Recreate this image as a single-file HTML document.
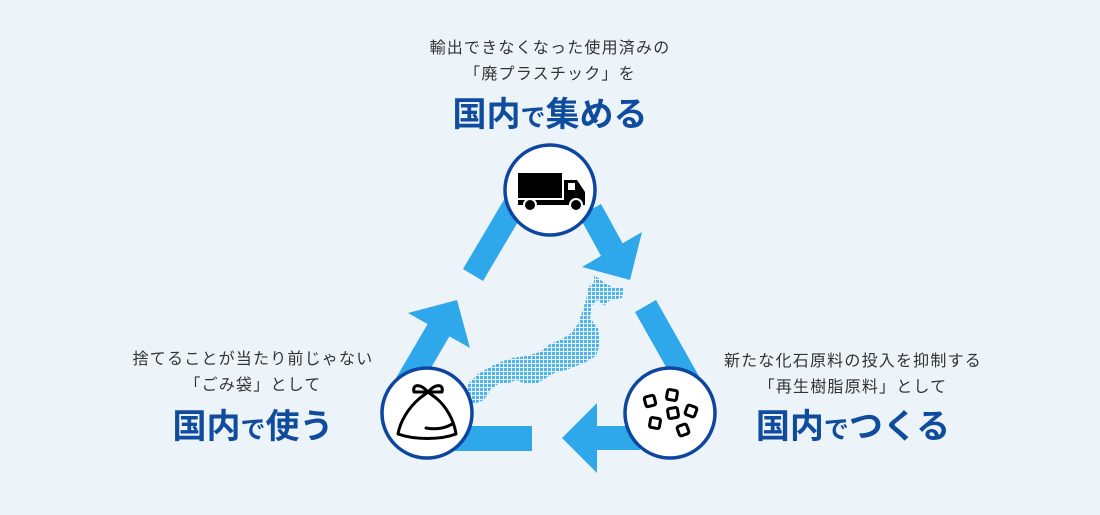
<!DOCTYPE html>
<html><head><meta charset="utf-8"><style>
html,body{margin:0;padding:0;background:#edf4f9;}
svg{display:block}
.s{font-family:"Liberation Sans","Noto Sans CJK JP",sans-serif;font-size:16px;fill:#333;letter-spacing:1.2px}
.b{font-family:"Liberation Sans","Noto Sans CJK JP",sans-serif;font-weight:bold;fill:#0f4c9e}
</style></head><body>
<svg width="1100" height="515" viewBox="0 0 1100 515" xmlns="http://www.w3.org/2000/svg">
<defs>
<pattern id="dots" width="4" height="4" patternUnits="userSpaceOnUse">
<rect width="3" height="3" fill="#4fb3ee"/>
</pattern>
</defs>
<rect width="1100" height="515" fill="#edf4f9"/>
<!-- Japan map -->
<polygon fill="url(#dots)" points="594,275 602,281 612,287 624,287 622,298 610,300 604,306 598,300 592,305 590,318 598,328 600,344 596,356 586,362 576,366 566,370 556,372 546,378 536,384 526,384 516,380 506,384 498,384 490,390 484,400 474,404 466,396 468,384 478,374 488,368 500,362 512,358 526,356 540,352 550,344 560,340 570,334 578,324 582,312 586,300 588,288 594,282"/>
<!-- bands -->
<g fill="#2ea8ea">
<polygon points="463,269 483,281 525,210 505,198"/>
<polygon points="579,216 601,204 623,244 601,256"/>
<polygon points="582,267 642,232 630,280"/>
<polygon points="635,312 656,300 700,378 679,390"/>
<polygon points="597,426 640,426 640,450 597,450"/>
<polygon points="597,403 597,473 562,438"/>
<polygon points="440,426 532,426 532,451 440,451"/>
<polygon points="396,378 418,390 452,332 430,320"/>
<polygon points="408,313 470,348 457,300"/>
</g>
<!-- circles -->
<g fill="#fff" stroke="#0d46a0" stroke-width="3.5">
<circle cx="550" cy="190" r="45"/>
<circle cx="427" cy="413" r="45"/>
<circle cx="670" cy="413" r="45"/>
</g>
<!-- truck -->
<g fill="#000">
<rect x="518" y="173" width="44" height="25"/>
<path d="M564,180 H577 L585,192 V205 H564 Z"/>
<rect x="518" y="200" width="46" height="5"/>
<circle cx="530" cy="205" r="6" stroke="#fff" stroke-width="2"/>
<circle cx="576" cy="205" r="6" stroke="#fff" stroke-width="2"/>
</g>
<rect x="568" y="183" width="7" height="7" fill="#fff"/>
<!-- trash bag -->
<g fill="none" stroke="#000" stroke-width="3" stroke-linejoin="round" stroke-linecap="round">
<path d="M420,398 C408,408 400,422 398,434 C415,440 440,440 456,434 C454,420 446,406 436,398"/>
<path d="M420,398 L428,392 L436,398"/>
<path d="M428,392 C420,383 412,384 414,392 Z"/>
<path d="M428,392 C436,383 444,384 442,392 Z"/>
<path d="M426,428 C436,430 446,428 452,424"/>
</g>
<!-- pellets -->
<g fill="none" stroke="#000" stroke-width="3" stroke-linejoin="round">
<rect x="645" y="396" width="10" height="10" rx="2" transform="rotate(-15 650 401)"/>
<rect x="667" y="390" width="10" height="10" rx="2" transform="rotate(10 672 395)"/>
<rect x="668" y="408" width="10" height="10" rx="2" transform="rotate(-10 673 413)"/>
<rect x="686" y="406" width="10" height="10" rx="2" transform="rotate(20 691 411)"/>
<rect x="650" y="418" width="10" height="10" rx="2" transform="rotate(10 655 423)"/>
<rect x="678" y="425" width="10" height="10" rx="2" transform="rotate(-20 683 430)"/>
</g>
<!-- texts -->
<text class="s" x="550" y="53" text-anchor="middle">輸出できなくなった使用済みの</text>
<text class="s" x="550" y="79" text-anchor="middle">「廃プラスチック」を</text>
<text class="b" x="550" y="126" text-anchor="middle"><tspan font-size="34">国内</tspan><tspan font-size="25">で</tspan><tspan font-size="34">集める</tspan></text>

<text class="s" x="853" y="366" text-anchor="middle">新たな化石原料の投入を抑制する</text>
<text class="s" x="853" y="392" text-anchor="middle">「再生樹脂原料」として</text>
<text class="b" x="853" y="438" text-anchor="middle"><tspan font-size="34">国内</tspan><tspan font-size="25">で</tspan><tspan font-size="34">つくる</tspan></text>

<text class="s" x="253" y="364" text-anchor="middle">捨てることが当たり前じゃない</text>
<text class="s" x="253" y="390" text-anchor="middle">「ごみ袋」として</text>
<text class="b" x="253" y="438" text-anchor="middle"><tspan font-size="34">国内</tspan><tspan font-size="25">で</tspan><tspan font-size="34">使う</tspan></text>
</svg>
</body></html>
